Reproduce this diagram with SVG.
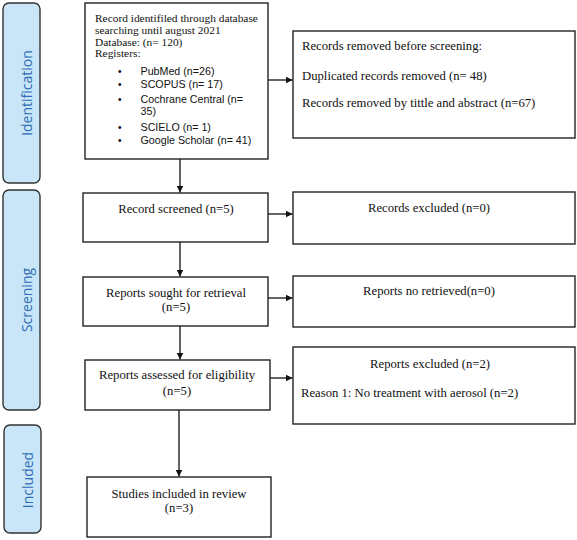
<svg xmlns="http://www.w3.org/2000/svg" width="577" height="540" viewBox="0 0 577 540">
<style>
.side{fill:#c9e6f8;stroke:#333;stroke-width:1.4}
.side-t{font-family:"Open Sans","Noto Sans",sans-serif;font-size:14px;fill:#2e6db4;text-anchor:middle}
.box{fill:#fff;stroke:#222;stroke-width:1.4}
.t{font-family:"Liberation Serif","Times New Roman",serif;font-size:12.7px;fill:#111}
.t1{font-size:11.4px}
.c{text-anchor:middle}
.s{font-family:"Liberation Sans",Arial,sans-serif;font-size:10.7px;fill:#111}
.b{font-family:"Liberation Sans",Arial,sans-serif;font-size:10px;fill:#000}
.edge{stroke:#222;stroke-width:1.4;fill:none;marker-end:url(#ah)}
</style>
<defs>
<marker id="ah" viewBox="0 0 10 10" refX="10" refY="5" markerWidth="5" markerHeight="5" orient="auto" markerUnits="strokeWidth">
<path d="M0,0 L10,5 L0,10 z" fill="#111"/>
</marker>
</defs>
<rect width="577" height="540" fill="#fff"/>
<g id="lane-identification">
<rect class="side" x="3" y="3" width="37" height="180" rx="6"/>
<text class="side-t" transform="translate(32,93) rotate(-90)">Identification</text>
</g>
<g id="lane-screening">
<rect class="side" x="3" y="190" width="37" height="220" rx="6"/>
<text class="side-t" transform="translate(32,300) rotate(-90)">Screening</text>
</g>
<g id="lane-included">
<rect class="side" x="4" y="425" width="37" height="108" rx="6"/>
<text class="side-t" transform="translate(33,480) rotate(-90)">Included</text>
</g>
<g id="n-identified">
<rect class="box" x="85" y="3" width="183" height="156"/>
<text class="t t1" x="95" y="22">Record identifiled through database</text>
<text class="t t1" x="95" y="33.5">searching until august 2021</text>
<text class="t t1" x="95" y="45.5">Database: (n= 120)</text>
<text class="t t1" x="95" y="57">Registers:</text>
<g class="b">
<text x="118" y="75">•</text>
<text x="118" y="88">•</text>
<text x="118" y="102.5">•</text>
<text x="118" y="130.5">•</text>
<text x="118" y="144">•</text>
</g>
<g class="s">
<text x="140.5" y="75">PubMed (n=26)</text>
<text x="140.5" y="88">SCOPUS (n= 17)</text>
<text x="140.5" y="102.5">Cochrane Central (n=</text>
<text x="140.5" y="115">35)</text>
<text x="140.5" y="130.5">SCIELO (n= 1)</text>
<text x="140.5" y="144">Google Scholar (n= 41)</text>
</g>
</g>
<g id="n-removed">
<rect class="box" x="293" y="31" width="282" height="107"/>
<text class="t" x="302" y="50">Records removed before screening:</text>
<text class="t" x="302" y="80">Duplicated records removed (n= 48)</text>
<text class="t" x="302" y="107">Records removed by tittle and abstract (n=67)</text>
</g>
<g id="n-screened">
<rect class="box" x="83" y="193" width="185" height="49"/>
<text class="t c" x="176" y="213">Record screened (n=5)</text>
</g>
<g id="n-excluded">
<rect class="box" x="293" y="192" width="282" height="52"/>
<text class="t c" x="429" y="212">Records excluded (n=0)</text>
</g>
<g id="n-sought">
<rect class="box" x="83" y="277" width="185" height="49"/>
<text class="t c" x="176" y="297">Reports sought for retrieval</text>
<text class="t c" x="176" y="311">(n=5)</text>
</g>
<g id="n-notretrieved">
<rect class="box" x="293" y="276" width="282" height="51"/>
<text class="t c" x="429" y="295">Reports no retrieved(n=0)</text>
</g>
<g id="n-assessed">
<rect class="box" x="85" y="360" width="185" height="50"/>
<text class="t c" x="177" y="379">Reports assessed for eligibility</text>
<text class="t c" x="177" y="395">(n=5)</text>
</g>
<g id="n-reportsexcluded">
<rect class="box" x="293" y="347" width="282" height="77"/>
<text class="t c" x="430" y="368">Reports excluded (n=2)</text>
<text class="t" x="301" y="397">Reason 1: No treatment with aerosol (n=2)</text>
</g>
<g id="n-included">
<rect class="box" x="87" y="477" width="184" height="60"/>
<text class="t c" x="179" y="498">Studies included in review</text>
<text class="t c" x="179" y="512">(n=3)</text>
</g>
<g id="connectors">
<line class="edge" x1="180" y1="159" x2="180" y2="192.5"/>
<line class="edge" x1="180" y1="242" x2="180" y2="276.5"/>
<line class="edge" x1="180" y1="326" x2="180" y2="359.5"/>
<line class="edge" x1="179" y1="410" x2="179" y2="476.5"/>
<line class="edge" x1="268" y1="80" x2="292.5" y2="80"/>
<line class="edge" x1="268" y1="214" x2="292.5" y2="214"/>
<line class="edge" x1="268" y1="298" x2="292.5" y2="298"/>
<line class="edge" x1="270" y1="378" x2="292.5" y2="378"/>
</g>
</svg>
